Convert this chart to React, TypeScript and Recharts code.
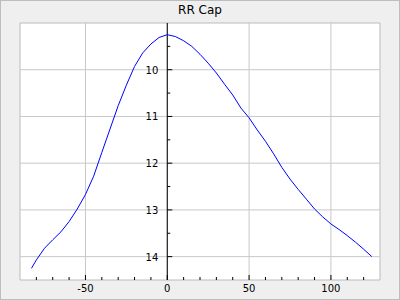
import { LineChart, Line, XAxis, YAxis, ReferenceArea, ReferenceLine, ReferenceDot } from "recharts";

const X_VALUES = [
  -83, -80, -75, -70, -65, -60, -55, -50, -45, -40, -35, -30, -25, -20, -15, -10, -5, 0,
  5, 10, 15, 20, 25, 30, 35, 40, 45, 50, 55, 60, 65, 70, 75, 80, 85, 90, 95, 100, 105,
  110, 115, 120, 125,
];
const RR_CAP = [
  14.25, 14.07, 13.82, 13.64, 13.47, 13.25, 12.98, 12.67, 12.28, 11.77, 11.27, 10.77,
  10.33, 9.93, 9.64, 9.45, 9.31, 9.25, 9.29, 9.38, 9.5, 9.67, 9.86, 10.07, 10.31, 10.54,
  10.82, 11.03, 11.29, 11.53, 11.8, 12.09, 12.34, 12.56, 12.77, 12.98, 13.15, 13.3,
  13.42, 13.55, 13.69, 13.84, 14.0,
];
const X_TICKS = [-80, -70, -60, -50, -40, -30, -20, -10, 0, 10, 20, 30, 40, 50, 60, 70, 80, 90, 100, 110, 120];
const X_MAJOR = [-50, 0, 50, 100];
const Y_MAJOR = [10, 11, 12, 13, 14];
const Y_MINOR = [9.5, 10.5, 11.5, 12.5, 13.5];
const X_DOMAIN = [-90, 130];
const Y_DOMAIN = [9, 14.5];

const data = X_VALUES.map((x, i) => ({ x, rr: RR_CAP[i] }));
const FONT = "'DejaVu Sans', sans-serif";

function XTick({ x, y, payload }: any) {
  const major = X_MAJOR.includes(payload.value);
  return (
    <g>
      <line x1={x} x2={x} y1={y} y2={y - (major ? 5 : 3)} stroke="#000" />
      {major && (
        <text x={x} y={y + 12} textAnchor="middle" fontSize={10} fontFamily={FONT} fill="#000">
          {payload.value}
        </text>
      )}
    </g>
  );
}

function YTick(major: boolean, label: number) {
  return ({ cx, cy }: any) => (
    <g>
      <line x1={cx} x2={cx + (major ? 5 : 3)} y1={cy} y2={cy} stroke="#000" />
      {major && (
        <text x={cx - 9} y={cy + 4} textAnchor="end" fontSize={10} fontFamily={FONT} fill="#000">
          {label}
        </text>
      )}
    </g>
  );
}

export default function App() {
  return (
    <div
      style={{
        position: "absolute",
        left: 0,
        top: 0,
        width: 400,
        height: 300,
        background: "#efefef",
        boxShadow: "inset 0 0 0 1px #bdbdbd",
      }}
    >
      <div
        style={{
          position: "absolute",
          top: 3,
          width: 400,
          textAlign: "center",
          fontFamily: FONT,
          fontSize: 12,
          color: "#000",
        }}
      >
        RR Cap
      </div>
      <LineChart width={400} height={300} data={data} margin={{ top: 23, right: 20, bottom: 0, left: 20 }}>
        <XAxis
          dataKey="x"
          type="number"
          domain={X_DOMAIN}
          ticks={X_TICKS}
          allowDataOverflow
          height={20}
          axisLine={false}
          tickLine={false}
          tickSize={0}
          tickMargin={0}
          interval={0}
          tick={<XTick />}
        />
        <YAxis hide type="number" domain={Y_DOMAIN} reversed allowDataOverflow />
        <ReferenceArea
          x1={X_DOMAIN[0]}
          x2={X_DOMAIN[1]}
          y1={Y_DOMAIN[0]}
          y2={Y_DOMAIN[1]}
          fill="#ffffff"
          fillOpacity={1}
          stroke="#bbbbbb"
        />
        {X_MAJOR.map((v) => (
          <ReferenceLine key={"gx" + v} x={v} stroke="#c8c8c8" />
        ))}
        {Y_MAJOR.map((v) => (
          <ReferenceLine key={"gy" + v} y={v} stroke="#c8c8c8" />
        ))}
        <ReferenceLine x={0} stroke="#000" />
        {Y_MAJOR.map((v) => (
          <ReferenceDot key={"ty" + v} x={0} y={v} r={0} shape={YTick(true, v)} />
        ))}
        {Y_MINOR.map((v) => (
          <ReferenceDot key={"my" + v} x={0} y={v} r={0} shape={YTick(false, v)} />
        ))}
        <Line
          type="linear"
          dataKey="rr"
          stroke="#0000ff"
          strokeWidth={1}
          dot={false}
          isAnimationActive={false}
        />
      </LineChart>
    </div>
  );
}
